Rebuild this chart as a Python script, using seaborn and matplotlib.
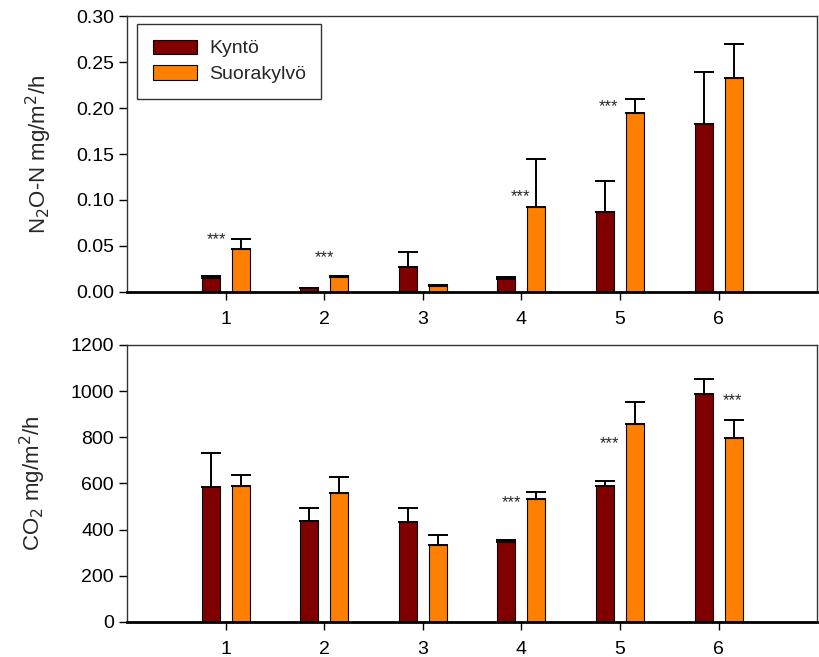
import numpy as np
import pandas as pd
import matplotlib
matplotlib.use("Agg")
import matplotlib.pyplot as plt
import seaborn as sns

sns.set_style("ticks")
plt.rcParams['font.family'] = ['Liberation Sans', 'DejaVu Sans']

groups = ["1", "2", "3", "4", "5", "6"]
treatments = ["Kyntö", "Suorakylvö"]
colors = ["#800000", "#FF8000"]

n2o_kynto = [0.0149, 0.0040, 0.0270, 0.0138, 0.0866, 0.1830]
n2o_kynto_err = [0.0028, 0.0005, 0.0160, 0.0029, 0.0344, 0.0560]
n2o_suora = [0.0464, 0.0166, 0.0069, 0.0928, 0.1950, 0.2330]
n2o_suora_err = [0.0112, 0.0013, 0.0005, 0.0522, 0.0150, 0.0370]

co2_kynto = [585, 438, 432, 347, 587, 989]
co2_kynto_err = [145, 56, 61, 7, 24, 65]
co2_suora = [591, 559, 333, 532, 857, 795]
co2_suora_err = [45, 70, 44, 32, 96, 78]

# significance marks: (x in category units, y in data units)
n2o_stars = [(-0.09, 0.057), (1.0, 0.037), (2.99, 0.104), (3.88, 0.202)]
co2_stars = [(2.9, 518), (3.89, 773), (5.14, 958)]


def make_df(a, b):
    return pd.DataFrame({
        "group": groups * 2,
        "treatment": [treatments[0]] * 6 + [treatments[1]] * 6,
        "value": list(a) + list(b),
    })


fig = plt.figure(figsize=(8.19, 6.57), dpi=100)
ax1 = fig.add_axes([0.155, 0.5556, 0.843, 0.42])
ax2 = fig.add_axes([0.155, 0.0533, 0.843, 0.4216])

panels = [
    (ax1, make_df(n2o_kynto, n2o_suora), [n2o_kynto_err, n2o_suora_err],
     n2o_stars, (0, 0.30), np.arange(0, 0.31, 0.05), "{:.2f}",
     "N$_2$O-N mg/m$^2$/h"),
    (ax2, make_df(co2_kynto, co2_suora), [co2_kynto_err, co2_suora_err],
     co2_stars, (0, 1200), np.arange(0, 1201, 200), "{:.0f}",
     "CO$_2$ mg/m$^2$/h"),
]

for ax, df, errs, stars, ylim, yticks, fmt, ylabel in panels:
    sns.barplot(data=df, x="group", y="value", hue="treatment",
                order=groups, hue_order=treatments, palette=colors,
                width=0.608, gap=0.4, saturation=1, errorbar=None,
                edgecolor="black", linewidth=0.8, ax=ax)
    for cont, err in zip(ax.containers, errs):
        xs = [p.get_x() + p.get_width() / 2 for p in cont]
        hs = [p.get_height() for p in cont]
        ax.errorbar(xs, hs, yerr=[np.zeros(len(err)), err], fmt="none",
                    ecolor="black", elinewidth=1.4, capsize=7, capthick=1.4)
    for sx, sy in stars:
        ax.text(sx, sy, "***", ha="center", va="center", fontsize=12)
    ax.set_xlim(-1, 6)
    ax.set_ylim(*ylim)
    ax.set_yticks(yticks)
    ax.set_yticklabels([fmt.format(v) for v in yticks])
    ax.set_xlabel("")
    ax.set_ylabel(ylabel, fontsize=16, labelpad=16)
    ax.tick_params(axis="both", labelsize=14, direction="out", length=6,
                   width=1, color="black", labelcolor="black")
    ax.tick_params(axis="x", pad=8)
    for s in ["top", "right", "left"]:
        ax.spines[s].set_visible(True)
        ax.spines[s].set_linewidth(1)
        ax.spines[s].set_color("#333333")
    ax.spines["bottom"].set_linewidth(2)
    ax.spines["bottom"].set_color("black")

leg = ax1.legend(loc="upper left", bbox_to_anchor=(0.0145, 0.971), fontsize=14,
                 frameon=True, fancybox=False, edgecolor="black",
                 handlelength=2.3, handleheight=0.75, borderpad=0.8,
                 labelspacing=0.4, handletextpad=0.6, borderaxespad=0)
leg.get_frame().set_linewidth(1)
ax2.legend_.remove()

fig.savefig("out.png", dpi=100)
